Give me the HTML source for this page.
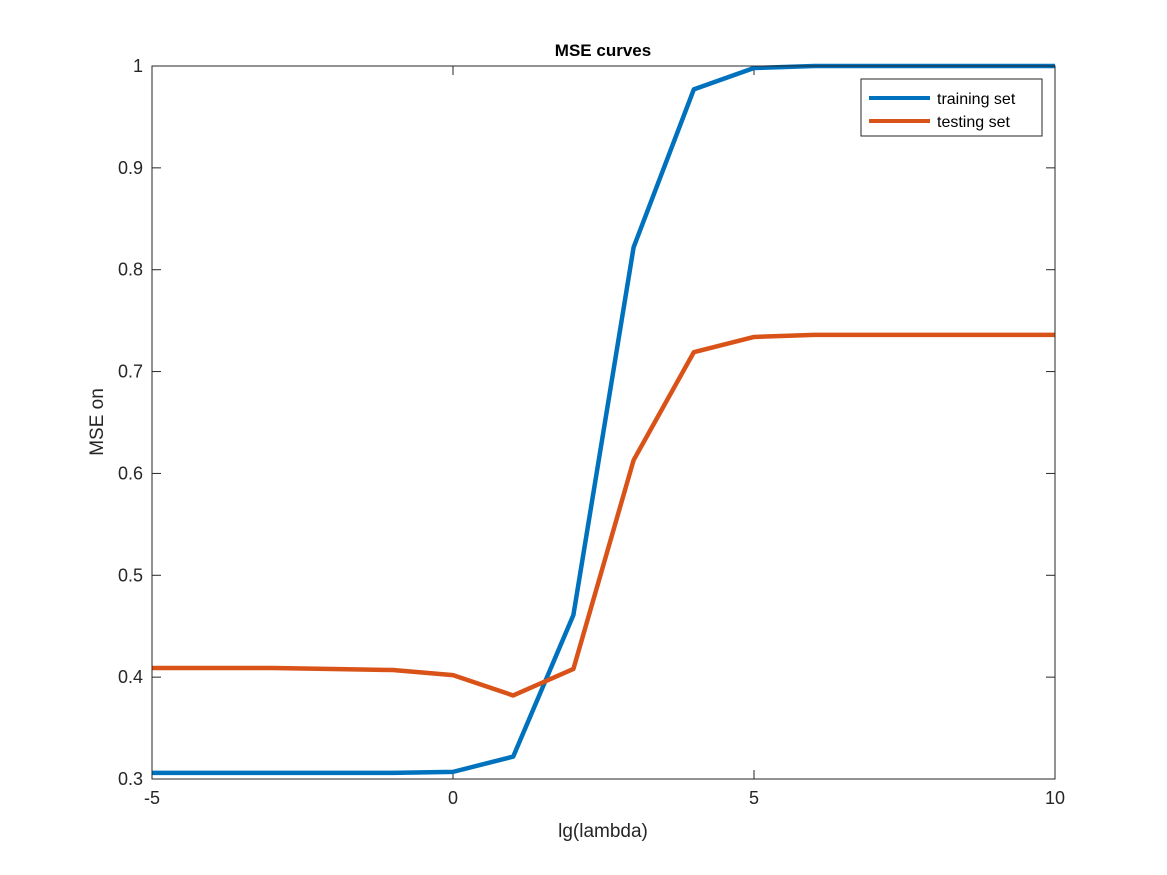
<!DOCTYPE html>
<html><head><meta charset="utf-8"><style>
body{margin:0;background:#fff;}
svg{display:block;font-family:"Liberation Sans",Arial,sans-serif;}
</style></head><body>
<svg id="chart" width="1167" height="875">
<rect x="0" y="0" width="1167" height="875" fill="#fff"/>
<rect x="152" y="66" width="903" height="713" fill="#fff"/>
<g id="grid"></g>
<g id="lines"></g>
<rect x="152" y="66" width="903" height="713" fill="none" stroke="#262626" stroke-width="1"/>
<text x="603" y="56" text-anchor="middle" font-size="17" font-weight="bold" fill="#000">MSE curves</text>
<text x="603" y="837" text-anchor="middle" font-size="19" fill="#262626">lg(lambda)</text>
<text transform="translate(103,422) rotate(-90)" text-anchor="middle" font-size="19" fill="#262626">MSE on</text>
<g>
<rect x="861" y="79" width="181" height="57" fill="#fff" stroke="#262626" stroke-width="1"/>
<line x1="869" y1="98" x2="930" y2="98" stroke="#0072BD" stroke-width="4"/>
<text x="937" y="104" font-size="16" fill="#000">training set</text>
<line x1="869" y1="121" x2="930" y2="121" stroke="#D95319" stroke-width="4"/>
<text x="937" y="127" font-size="16" fill="#000">testing set</text>
</g>
</svg>
<script>
const xValues=[-5,-4,-3,-2,-1,0,1,2,3,4,5,6,7,8,9,10];
const trainingMSE=[0.306,0.306,0.306,0.306,0.306,0.307,0.322,0.461,0.822,0.977,0.998,1.0,1.0,1.0,1.0,1.0];
const testingMSE=[0.409,0.409,0.409,0.408,0.407,0.402,0.382,0.408,0.613,0.719,0.734,0.736,0.736,0.736,0.736,0.736];
const xTicks=[-5,0,5,10];
const yTicks=[0.3,0.4,0.5,0.6,0.7,0.8,0.9,1];
const yTickLabels=["0.3","0.4","0.5","0.6","0.7","0.8","0.9","1"];
const L=152,R=1055,T=66,B=779,x0=-5,x1=10,y0=0.3,y1=1;
const sx=v=>L+(v-x0)/(x1-x0)*(R-L);
const sy=v=>B-(v-y0)/(y1-y0)*(B-T);
const NS="http://www.w3.org/2000/svg";
const g=document.getElementById('grid'),lg=document.getElementById('lines');
function mk(t,a,p){const e=document.createElementNS(NS,t);for(const k in a)e.setAttribute(k,a[k]);p.appendChild(e);return e;}
xTicks.forEach(v=>{
 const x=sx(v);
 const t1=mk('line',{x1:x,y1:B,x2:x,y2:B-9,stroke:'#262626'},g);
 
 
 const t2=mk('line',{x1:x,y1:T,x2:x,y2:T+9,stroke:'#262626'},g);
 
 
 const tx=mk('text',{x:x,y:B+25,'text-anchor':'middle','font-size':18,fill:'#262626'},g);
 tx.textContent=String(v);
 
 
});
yTicks.forEach((v,i)=>{
 const y=sy(v);
 const t1=mk('line',{x1:L,y1:y,x2:L+9,y2:y,stroke:'#262626'},g);
 
 
 const t2=mk('line',{x1:R,y1:y,x2:R-9,y2:y,stroke:'#262626'},g);
 
 
 const tx=mk('text',{x:L-9,y:y+6,'text-anchor':'end','font-size':18,fill:'#262626'},g);
 tx.textContent=yTickLabels[i];
 
 
});
function line(vals,color,name){
 const pts=vals.map((v,i)=>sx(xValues[i])+','+sy(v)).join(' ');
 const p=mk('polyline',{points:pts,fill:'none',stroke:color,'stroke-width':4.5,'stroke-linejoin':'round'},lg);
 
 
}
line(trainingMSE,'#0072BD','training-set-line');
line(testingMSE,'#D95319','testing-set-line');
</script>
</body></html>
